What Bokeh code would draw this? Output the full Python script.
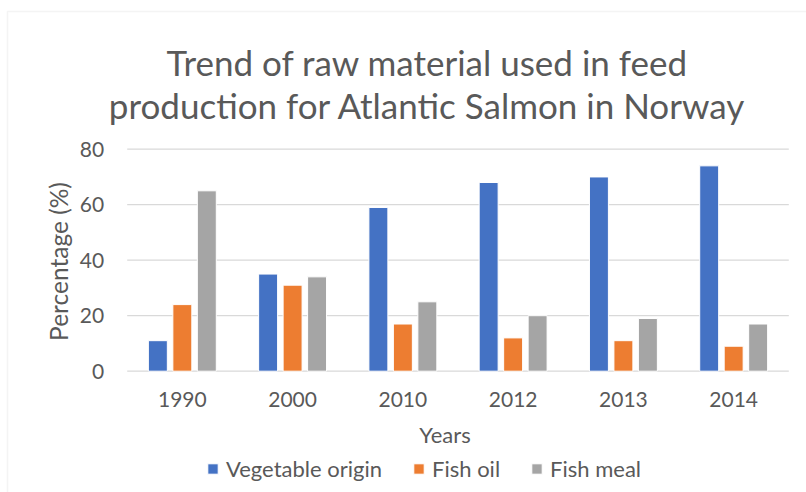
from bokeh.plotting import figure
from bokeh.models import (Range1d, FixedTicker, Label, Legend, LegendItem, LinearAxis,
                          BoxAnnotation, ColumnDataSource)
from bokeh.transform import dodge
from bokeh.embed import file_html
from bokeh.resources import INLINE
import math

years = ["1990", "2000", "2010", "2012", "2013", "2014"]
vegetable_origin = [11, 35, 59, 68, 70, 74]
fish_oil = [24, 31, 17, 12, 11, 9]
fish_meal = [65, 34, 25, 20, 19, 17]
series_names = ["Vegetable origin", "Fish oil", "Fish meal"]
y_ticks = [0, 20, 40, 60, 80]

colors = ["#4472C4", "#ED7D31", "#A5A5A5"]
FONT = "Lato"
TXT = "#595959"
GRID = "#D9D9D9"

idx = list(range(len(years)))
src = ColumnDataSource(dict(idx=idx, year=years, veg=vegetable_origin, oil=fish_oil, meal=fish_meal))

W, H = 806, 492
# plot area in page pixels: x 126.7..788.3 (6 categories), y=0 at 370.7, y=80 at 148.7
px_per_cat = (788.3 - 126.7) / len(years)
x0_px = 126.7 + px_per_cat / 2
px_per_unit = (370.7 - 148.7) / 80.0
x_range = Range1d(-x0_px / px_per_cat, (W - x0_px) / px_per_cat)
y_range = Range1d(-(H - 370.7) / px_per_unit, 370.7 / px_per_unit)

p = figure(width=W, height=H, x_range=x_range, y_range=y_range,
           output_backend="svg", toolbar_location=None,
           x_axis_location=None, y_axis_location=None,
           min_border_left=0, min_border_right=0, min_border_top=0, min_border_bottom=0)
p.outline_line_color = None
p.background_fill_color = "white"
p.border_fill_color = "white"
p.xgrid.visible = False
p.ygrid.visible = False

# horizontal gridlines across the plot area
p.segment(x0=[-0.5] * len(y_ticks), x1=[len(years) - 0.5] * len(y_ticks), y0=y_ticks, y1=y_ticks,
          line_color=GRID, line_width=1.3)

bw = 0.172
step = 0.222
renderers = []
for col, off, c in zip(["veg", "oil", "meal"], [-step, 0, step], colors):
    r = p.vbar(x=dodge("idx", off), top=col, bottom=0, width=bw, source=src,
               fill_color=c, line_color="white", line_width=1)
    renderers.append(r)

xaxis = LinearAxis(fixed_location=0, ticker=FixedTicker(ticks=idx),
                   major_label_overrides={i: y for i, y in zip(idx, years)})
yaxis = LinearAxis(fixed_location=-0.5, ticker=FixedTicker(ticks=y_ticks))
for ax in (xaxis, yaxis):
    ax.axis_line_color = None
    ax.major_tick_line_color = None
    ax.minor_tick_line_color = None
    ax.major_tick_out = 0
    ax.major_tick_in = 0
    ax.major_label_text_font = FONT
    ax.major_label_text_font_size = "21px"
    ax.major_label_text_color = TXT
yaxis.major_label_standoff = 23
xaxis.major_label_standoff = 21
p.add_layout(xaxis, "below")
p.add_layout(yaxis, "left")


def sy(page_y):
    return H - page_y


title_lines = ["Trend of raw material used in feed", "production for Atlantic Salmon in Norway"]
for line, by in zip(title_lines, [61, 104]):
    p.add_layout(Label(x=427, y=sy(by), x_units="screen", y_units="screen", text=line,
                       text_align="center", text_baseline="alphabetic", text_font=FONT,
                       text_font_size="35px", text_color=TXT))

p.add_layout(Label(x=444.5, y=sy(434), x_units="screen", y_units="screen", text="Years",
                   text_align="center", text_baseline="alphabetic", text_font=FONT,
                   text_font_size="22px", text_color=TXT))
p.add_layout(Label(x=58, y=sy(261), x_units="screen", y_units="screen", text="Percentage (%)",
                   angle=math.pi / 2, text_align="center", text_baseline="middle", text_font=FONT,
                   text_font_size="24.5px", text_color=TXT))

# chart area border (only top and left edges visible)
p.add_layout(BoxAnnotation(left=7, right=1000, top=sy(11), bottom=sy(700),
                           left_units="screen", right_units="screen", top_units="screen",
                           bottom_units="screen", fill_alpha=0, line_color=GRID,
                           line_width=1.5))

legend = Legend(items=[LegendItem(label=n, renderers=[r]) for n, r in zip(series_names, renderers)],
                location=(206, sy(482)), orientation="horizontal",
                glyph_width=13, glyph_height=13, label_standoff=7, spacing=30,
                padding=0, margin=0, border_line_alpha=0, background_fill_alpha=0,
                label_text_font=FONT, label_text_font_size="22px", label_text_color=TXT)
p.add_layout(legend, "center")

open("out.html", "w").write(file_html(p, INLINE))
